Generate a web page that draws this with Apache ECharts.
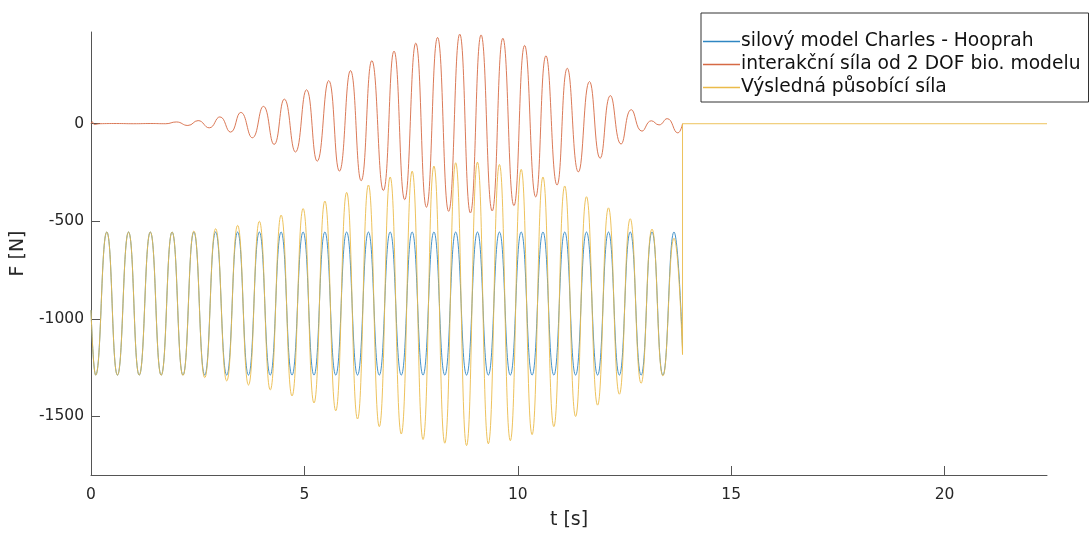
<!DOCTYPE html>
<html>
<head>
<meta charset="utf-8">
<script src="https://cdn.jsdelivr.net/npm/echarts@6/dist/echarts.min.js"></script>
<style>
html,body{margin:0;padding:0;background:#fff;}
#chart{width:1092px;height:535px;}
</style>
</head>
<body>
<div id="chart"></div>
<script>
// Series names (legend)
const seriesNames = ['silový model Charles - Hooprah', 'interakční síla od 2 DOF bio. modelu', 'Výsledná působící síla'];

// Tick labels
const xTicks = [0, 5, 10, 15, 20];
const yTicks = [-1500, -1000, -500, 0];

// Extremum times (s) of the model force / resulting force
const blueT = [0, 0.11, 0.37, 0.62, 0.88, 1.13, 1.39, 1.645, 1.90, 2.155, 2.41, 2.665, 2.92, 3.18, 3.435, 3.69, 3.945, 4.20, 4.455, 4.71, 4.97, 5.225, 5.48, 5.735, 5.99, 6.245, 6.50, 6.755, 7.01, 7.27, 7.525, 7.78, 8.035, 8.29, 8.545, 8.80, 9.055, 9.31, 9.57, 9.825, 10.08, 10.335, 10.59, 10.845, 11.10, 11.355, 11.61, 11.87, 12.125, 12.38, 12.635, 12.89, 13.145, 13.40, 13.66, 13.86];

// silový model Charles - Hooprah (N)
const blueF = [-955, -1288, -555, -1288, -555, -1288, -555, -1288, -555, -1288, -555, -1288, -555, -1288, -555, -1288, -555, -1288, -555, -1288, -555, -1288, -555, -1288, -555, -1288, -555, -1288, -555, -1288, -555, -1288, -555, -1288, -555, -1288, -555, -1288, -555, -1288, -555, -1288, -555, -1288, -555, -1288, -555, -1288, -555, -1288, -555, -1288, -555, -1288, -555, -1150];

// Výsledná působící síla (N), same times
const yellowF = [-955, -1288, -555, -1288, -555, -1288, -555, -1289, -555, -1290, -550, -1301, -538, -1318, -521, -1339, -500, -1364, -468, -1395, -435, -1431, -396, -1471, -352, -1513, -314, -1552, -273, -1590, -243, -1618, -217, -1637, -200, -1649, -197, -1640, -209, -1624, -234, -1593, -273, -1552, -319, -1500, -374, -1442, -431, -1386, -487, -1330, -540, -1292, -587, -1183];

// Resulting force after release
const yellowTailT = [13.86, 13.86, 22.4];
const yellowTailF = [-1183, 0, 0];

// interakční síla od 2 DOF bio. modelu
const orangeT = [0, 0.03, 0.08, 0.2, 0.6, 1.0, 1.4, 1.75, 2.0, 2.27, 2.51, 2.77, 3.02, 3.27, 3.51, 3.78, 4.04, 4.29, 4.53, 4.79, 5.05, 5.30, 5.57, 5.82, 6.08, 6.33, 6.58, 6.85, 7.10, 7.35, 7.61, 7.86, 8.12, 8.38, 8.64, 8.89, 9.14, 9.40, 9.65, 9.91, 10.16, 10.42, 10.66, 10.92, 11.16, 11.42, 11.68, 11.93, 12.17, 12.42, 12.66, 12.91, 13.13, 13.31, 13.50, 13.75, 13.86];
const orangeF = [0, 10, -4, 0, 1, 0, 1, 0, 9, -9, 16, -21, 35, -43, 58, -72, 89, -106, 126, -145, 174, -192, 221, -243, 272, -292, 323, -342, 372, -389, 413, -428, 442, -449, 459, -457, 455, -447, 438, -420, 401, -375, 348, -314, 284, -247, 216, -177, 144, -104, 72, -38, 15, -6, 26, -47, 0];

const zip = (a, b) => a.map((v, i) => [v, b[i]]);

const FONT = 'DejaVu Sans';
const colors = ['#2f86c2', '#d66a44', '#ebbb4a'];

const chart = echarts.init(document.getElementById('chart'), null, {renderer: 'canvas'});
chart.setOption({
  animation: false,
  backgroundColor: '#fff',
  grid: {left: 91, right: 45, top: 32, bottom: 60, containLabel: false, outerBoundsMode: 'none'},
  legend: {
    data: seriesNames,
    orient: 'vertical',
    left: 701,
    top: 13,
    padding: [19, 8, 5, 2],
    icon: 'rect',
    itemWidth: 37,
    itemHeight: 1.4,
    itemGap: 4,
    borderColor: '#333',
    borderWidth: 1,
    backgroundColor: '#fff',
    selectedMode: false,
    textStyle: {fontFamily: FONT, fontSize: 18.7, color: '#111', padding: [0, 0, 0, -4]}
  },
  xAxis: {
    type: 'value',
    min: 0,
    max: 22.4,
    name: 't [s]',
    nameLocation: 'middle',
    nameGap: 36,
    nameTextStyle: {fontFamily: FONT, fontSize: 19, color: '#262626'},
    axisLine: {onZero: false, lineStyle: {color: '#555', width: 1}},
    axisTick: {inside: true, length: 9, customValues: xTicks, lineStyle: {color: '#555'}},
    axisLabel: {customValues: xTicks, margin: 12, fontFamily: FONT, fontSize: 15.5, color: '#262626',
      formatter: v => String(v)},
    splitLine: {show: false}
  },
  yAxis: {
    type: 'value',
    min: -1800,
    max: 470,
    name: 'F [N]',
    nameLocation: 'middle',
    nameGap: 52,
    nameTextStyle: {fontFamily: FONT, fontSize: 19, color: '#262626'},
    axisLine: {show: true, lineStyle: {color: '#555', width: 1}},
    axisTick: {show: true, inside: true, length: 9, customValues: yTicks, lineStyle: {color: '#555'}},
    axisLabel: {customValues: yTicks, margin: 7, fontFamily: FONT, fontSize: 15.5, color: '#262626',
      formatter: v => String(v)},
    splitLine: {show: false}
  },
  series: [
    {
      name: seriesNames[0], type: 'line', data: zip(blueT, blueF),
      smooth: true, symbol: 'none', showSymbol: false,
      lineStyle: {color: colors[0], width: 0.9}, itemStyle: {color: colors[0]}
    },
    {
      name: seriesNames[1], type: 'line', data: zip(orangeT, orangeF),
      smooth: true, symbol: 'none', showSymbol: false,
      lineStyle: {color: colors[1], width: 0.9}, itemStyle: {color: colors[1]}
    },
    {
      name: seriesNames[2], type: 'line', data: zip(blueT, yellowF),
      smooth: true, symbol: 'none', showSymbol: false,
      lineStyle: {color: colors[2], width: 0.9}, itemStyle: {color: colors[2]}
    },
    {
      name: seriesNames[2], type: 'line', data: zip(yellowTailT, yellowTailF),
      smooth: false, symbol: 'none', showSymbol: false,
      lineStyle: {color: colors[2], width: 0.9}, itemStyle: {color: colors[2]}
    }
  ]
});
</script>
</body>
</html>
